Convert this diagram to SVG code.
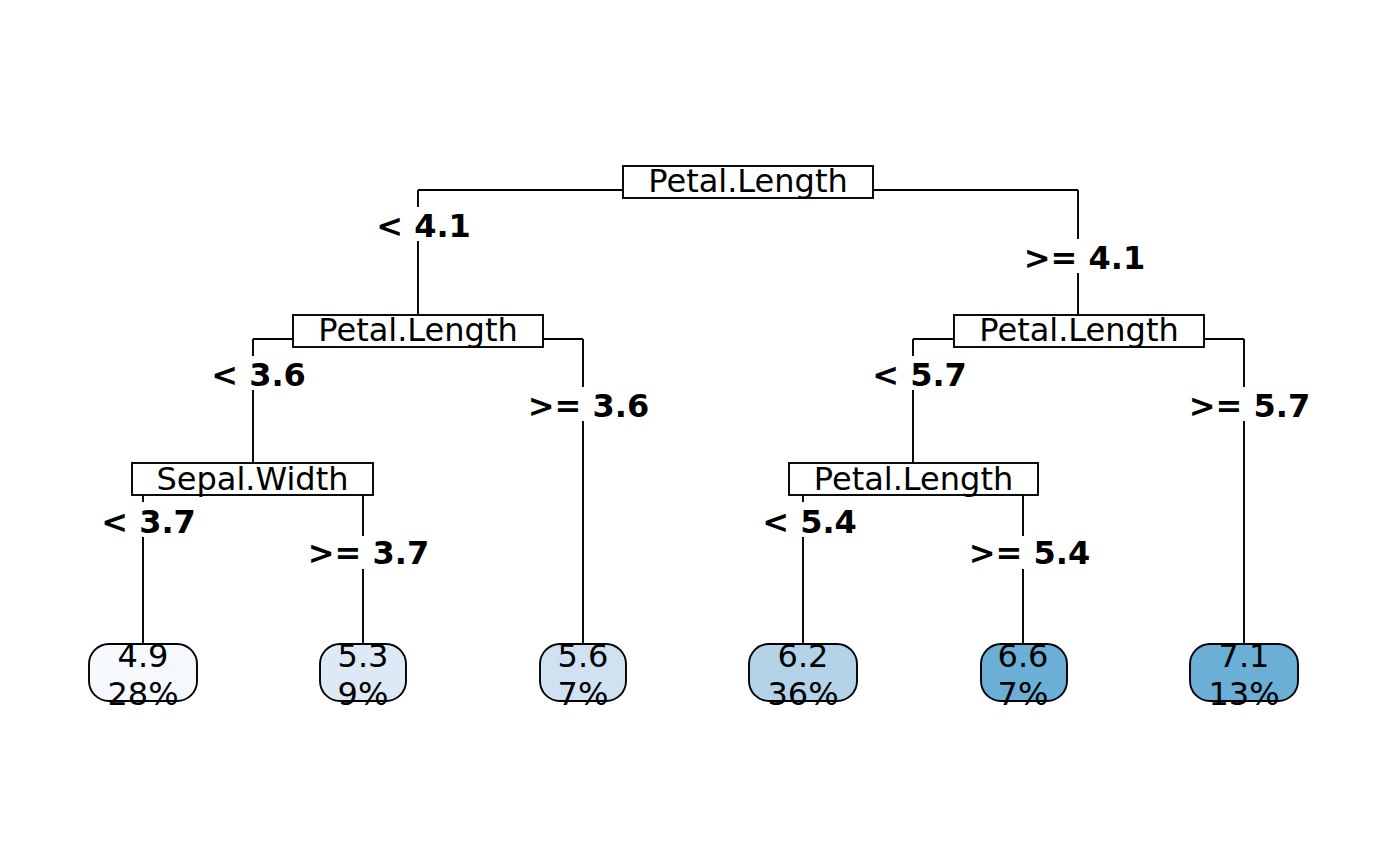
<svg xmlns="http://www.w3.org/2000/svg" width="1400" height="866" viewBox="0 0 1400 866">
<style>
.ln{stroke:#000;stroke-width:1.9;fill:none}
.box{fill:#fff;stroke:#000;stroke-width:1.9}
.leaf{stroke:#000;stroke-width:1.9}
.nt{font-family:"DejaVu Sans",sans-serif;font-size:32px;text-anchor:middle;fill:#000}
.lb{font-family:"DejaVu Sans",sans-serif;font-size:32px;font-weight:bold;text-anchor:middle;fill:#000}
.bg{fill:#fff}
</style>
<rect width="1400" height="866" fill="#fff"/>
<g id="connectors">
<path class="ln" d="M418 190H1078M418 190V315M1078 190V339"/>
<path class="ln" d="M253 339H583M253 339V487M583 339V672"/>
<path class="ln" d="M913 339H1244M913 339V487M1244 339V672"/>
<path class="ln" d="M143 487H363M143 487V672M363 487V672"/>
<path class="ln" d="M803 487H1023M803 487V672M1023 487V672"/>
</g>
<g id="labels">
<rect class="bg" x="376" y="207" width="95" height="34"/><text class="lb" x="423.5" y="237">&lt; 4.1</text>
<rect class="bg" x="1024" y="239" width="121" height="34"/><text class="lb" x="1084.5" y="269">&gt;= 4.1</text>
<rect class="bg" x="211" y="356" width="95" height="34"/><text class="lb" x="258.5" y="386">&lt; 3.6</text>
<rect class="bg" x="528" y="387" width="121" height="34"/><text class="lb" x="588.5" y="417">&gt;= 3.6</text>
<rect class="bg" x="872" y="356" width="95" height="34"/><text class="lb" x="919.5" y="386">&lt; 5.7</text>
<rect class="bg" x="1189" y="387" width="121" height="34"/><text class="lb" x="1249.5" y="417">&gt;= 5.7</text>
<rect class="bg" x="101" y="502" width="95" height="35"/><text class="lb" x="148.5" y="533">&lt; 3.7</text>
<rect class="bg" x="308" y="536" width="121" height="33"/><text class="lb" x="368.5" y="564">&gt;= 3.7</text>
<rect class="bg" x="762" y="502" width="95" height="35"/><text class="lb" x="809.5" y="533">&lt; 5.4</text>
<rect class="bg" x="969" y="536" width="121" height="33"/><text class="lb" x="1029.5" y="564">&gt;= 5.4</text>
</g>
<g id="n1"><rect class="box" x="623" y="166" width="250" height="32"/><text class="nt" x="748" y="192">Petal.Length</text></g>
<g id="n2"><rect class="box" x="293" y="315" width="250" height="32"/><text class="nt" x="418" y="341">Petal.Length</text></g>
<g id="n3"><rect class="box" x="954" y="315" width="250" height="32"/><text class="nt" x="1079" y="341">Petal.Length</text></g>
<g id="n4"><rect class="box" x="132" y="463" width="241" height="32"/><text class="nt" x="252.5" y="490">Sepal.Width</text></g>
<g id="n5"><rect class="box" x="789" y="463" width="249" height="32"/><text class="nt" x="913.5" y="490">Petal.Length</text></g>
<g id="leaf1"><rect class="leaf" x="89" y="644" width="108" height="57" rx="20" fill="#F5F9FE"/><text class="nt" x="143" y="667">4.9</text><text class="nt" x="143" y="705">28%</text></g>
<g id="leaf2"><rect class="leaf" x="320" y="644" width="86" height="57" rx="20" fill="#DDE9F5"/><text class="nt" x="363" y="667">5.3</text><text class="nt" x="363" y="705">9%</text></g>
<g id="leaf3"><rect class="leaf" x="540" y="644" width="86" height="57" rx="20" fill="#D0E2F2"/><text class="nt" x="583" y="667">5.6</text><text class="nt" x="583" y="705">7%</text></g>
<g id="leaf4"><rect class="leaf" x="749" y="644" width="108" height="57" rx="20" fill="#B3D3E8"/><text class="nt" x="803" y="667">6.2</text><text class="nt" x="803" y="705">36%</text></g>
<g id="leaf5"><rect class="leaf" x="981" y="644" width="86" height="57" rx="20" fill="#6BAED6"/><text class="nt" x="1023" y="667">6.6</text><text class="nt" x="1023" y="705">7%</text></g>
<g id="leaf6"><rect class="leaf" x="1190" y="644" width="108" height="57" rx="20" fill="#6BAED6"/><text class="nt" x="1244" y="667">7.1</text><text class="nt" x="1244" y="705">13%</text></g>
</svg>
